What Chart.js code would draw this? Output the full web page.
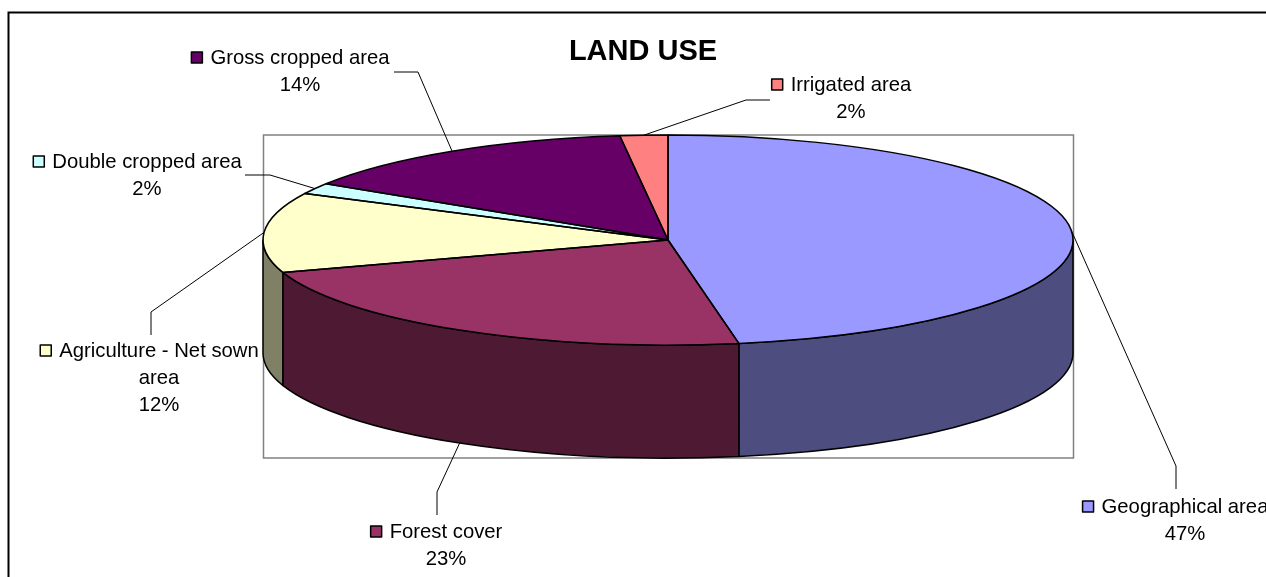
<!DOCTYPE html>
<html>
<head>
<meta charset="utf-8">
<title>LAND USE</title>
<script src="https://cdn.jsdelivr.net/npm/chart.js@4"></script>
<style>
  html, body { margin: 0; padding: 0; background: #fff; overflow: hidden; }
  canvas { display: block; }
</style>
</head>
<body>
<canvas id="landUse" width="1266" height="577"></canvas>
<script>
var chartTitle = 'LAND USE';
var categories = ['Geographical area', 'Forest cover', ['Agriculture - Net sown', 'area'], 'Double cropped area', 'Gross cropped area', 'Irrigated area'];
var shares = [47.2, 22.8, 12.3, 1.7, 14.1, 1.9];
var topColors = ['#9999FF', '#993366', '#FFFFCC', '#CCFFFF', '#660066', '#FF8080'];
var sideColors = ['#4D4D80', '#4D1933', '#808066', '#668080', '#330033', '#804040'];

// label block: text centre, first line y, leader elbow and leader end
var labelSpots = [
  { cx: 1185, y: 507, elbow: [1176, 466], end: [1176, 489] },
  { cx: 446, y: 532, elbow: [437, 492], end: [437, 515] },
  { cx: 159, y: 351, elbow: [151, 312], end: [151, 335] },
  { cx: 147, y: 162, elbow: [270, 175], end: [245, 175] },
  { cx: 300, y: 58, elbow: [418, 72], end: [394, 72] },
  { cx: 851, y: 85, elbow: [746, 100], end: [770, 100] }
];

var depth = 113;
var lineGap = 27;
var labelFont = '20.3px "Liberation Sans"';

function ellipseOf(chart) {
  var a = chart.chartArea;
  return { cx: (a.left + a.right) / 2, cy: (a.top + a.bottom) / 2, rx: a.width / 2, ry: a.height / 2 };
}

// the arcs come out round, stretch them sideways into the flat top of the pie
var flatPie = {
  id: 'flatPie',
  beforeDraw: function (chart) {
    var ctx = chart.ctx;
    ctx.save();
    ctx.strokeStyle = '#000';
    ctx.lineWidth = 2;
    ctx.beginPath();
    ctx.moveTo(8.5, 577);
    ctx.lineTo(8.5, 12.5);
    ctx.lineTo(1266, 12.5);
    ctx.stroke();
    ctx.strokeStyle = '#808080';
    ctx.lineWidth = 1.5;
    ctx.strokeRect(263.5, 135, 810, 323);
    ctx.restore();
  },
  beforeDatasetsDraw: function (chart) {
    var ctx = chart.ctx, e = ellipseOf(chart);
    var arcs = chart.getDatasetMeta(0).data;
    ctx.save();
    ctx.lineWidth = 1.5;
    ctx.lineJoin = 'round';
    ctx.strokeStyle = '#000';
    arcs.forEach(function (arc, i) {
      var from = Math.max(arc.startAngle, 0), to = Math.min(arc.endAngle, Math.PI);
      if (to <= from) return;
      ctx.beginPath();
      ctx.ellipse(e.cx, e.cy, e.rx, e.ry, 0, from, to);
      ctx.ellipse(e.cx, e.cy + depth, e.rx, e.ry, 0, to, from, true);
      ctx.closePath();
      ctx.fillStyle = sideColors[i];
      ctx.fill();
      ctx.stroke();
    });
    ctx.restore();
  },
  beforeDatasetDraw: function (chart) {
    var ctx = chart.ctx, e = ellipseOf(chart);
    ctx.save();
    ctx.translate(e.cx, e.cy);
    ctx.scale(e.rx / e.ry, 1);
    ctx.translate(-e.cx, -e.cy);
  },
  afterDatasetDraw: function (chart) {
    chart.ctx.restore();
  },
  afterDatasetsDraw: function (chart) {
    var ctx = chart.ctx, e = ellipseOf(chart);
    var arcs = chart.getDatasetMeta(0).data;
    var total = shares.reduce(function (s, v) { return s + v; }, 0);
    ctx.save();
    ctx.strokeStyle = '#000';
    ctx.lineWidth = 1.5;
    ctx.lineJoin = 'round';
    arcs.forEach(function (arc) {
      ctx.beginPath();
      ctx.moveTo(e.cx, e.cy);
      ctx.ellipse(e.cx, e.cy, e.rx, e.ry, 0, arc.startAngle, arc.endAngle);
      ctx.closePath();
      ctx.stroke();
    });

    ctx.textBaseline = 'middle';
    arcs.forEach(function (arc, i) {
      var spot = labelSpots[i];
      var mid = (arc.startAngle + arc.endAngle) / 2;
      var ax = e.cx + e.rx * Math.cos(mid);
      var ay = e.cy + e.ry * Math.sin(mid);
      if (Math.sin(mid) > 0) ay += depth;
      ctx.lineWidth = 1;
      ctx.strokeStyle = '#000';
      ctx.beginPath();
      ctx.moveTo(ax, ay);
      ctx.lineTo(spot.elbow[0], spot.elbow[1]);
      ctx.lineTo(spot.end[0], spot.end[1]);
      ctx.stroke();

      var lines = [].concat(categories[i]);
      lines.push(Math.round(shares[i] / total * 100) + '%');
      ctx.font = labelFont;
      ctx.fillStyle = '#000';
      ctx.textAlign = 'center';
      lines.forEach(function (line, n) {
        ctx.fillText(line, spot.cx, spot.y + n * lineGap);
      });
      var w = ctx.measureText(lines[0]).width;
      ctx.lineWidth = 1.5;
      ctx.fillStyle = topColors[i];
      ctx.fillRect(spot.cx - w / 2 - 19, spot.y - 6, 11, 11);
      ctx.strokeRect(spot.cx - w / 2 - 19, spot.y - 6, 11, 11);
    });

    ctx.font = 'bold 29px "Liberation Sans"';
    ctx.fillStyle = '#000';
    ctx.textAlign = 'center';
    ctx.fillText(chartTitle, 643, 52);
    ctx.restore();
  }
};

new Chart(document.getElementById('landUse').getContext('2d'), {
  type: 'pie',
  data: {
    labels: categories,
    datasets: [{
      data: shares,
      backgroundColor: topColors,
      borderWidth: 0,
      clip: false
    }]
  },
  options: {
    responsive: false,
    devicePixelRatio: 1,
    animation: false,
    layout: { padding: { left: 263, right: 193, top: 135, bottom: 232 } },
    plugins: { legend: { display: false }, tooltip: { enabled: false } }
  },
  plugins: [flatPie]
});
</script>
</body>
</html>
